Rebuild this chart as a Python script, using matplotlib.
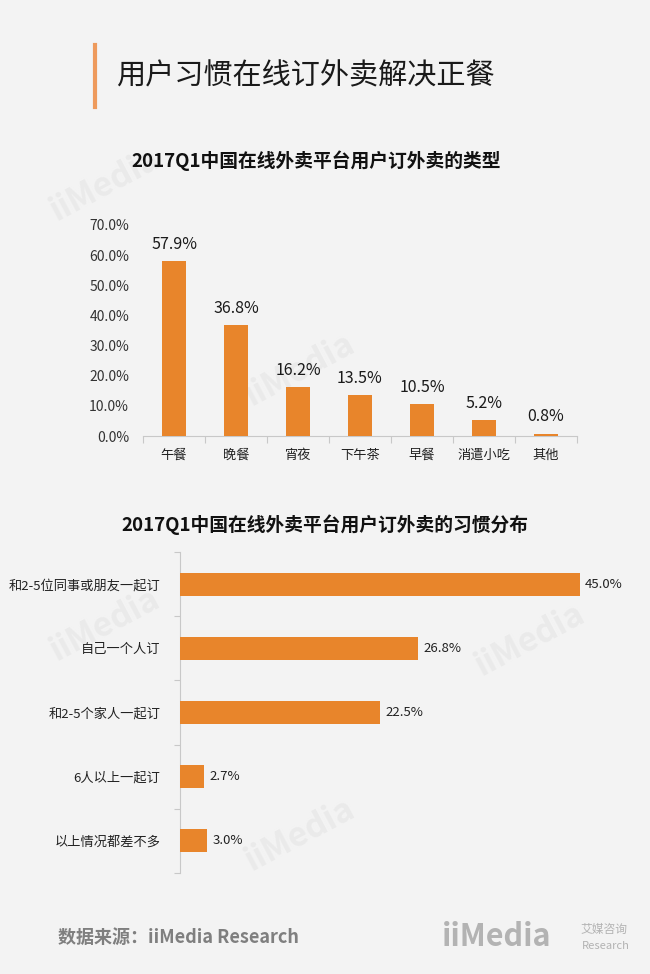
import matplotlib
matplotlib.use("Agg")
import matplotlib.pyplot as plt
import numpy as np

plt.rcParams['font.family'] = ['Noto Sans CJK SC', 'DejaVu Sans']

# ---- data ----
page_title = "用户习惯在线订外卖解决正餐"
title1 = "2017Q1中国在线外卖平台用户订外卖的类型"
cats1 = ["午餐", "晚餐", "宵夜", "下午茶", "早餐", "消遣小吃", "其他"]
vals1 = [57.9, 36.8, 16.2, 13.5, 10.5, 5.2, 0.8]
yticks1 = [0, 10, 20, 30, 40, 50, 60, 70]

title2 = "2017Q1中国在线外卖平台用户订外卖的习惯分布"
cats2 = ["和2-5位同事或朋友一起订", "自己一个人订", "和2-5个家人一起订", "6人以上一起订", "以上情况都差不多"]
vals2 = [45.0, 26.8, 22.5, 2.7, 3.0]

source = "数据来源：iiMedia Research"

BG = "#F3F3F3"
BAR = "#E8852B"
AX = "#C8C8C8"
W, H = 650, 974

fig = plt.figure(figsize=(W / 100, H / 100), dpi=100, facecolor=BG)

def fx(px):
    return px / W

def fy(py):
    return 1 - py / H

# faint watermarks
for (x, y) in [(105, 185), (300, 370), (105, 625), (530, 640), (300, 835)]:
    fig.text(fx(x), fy(y), "iiMedia", fontsize=24, fontweight='bold', color='#EAEAEA',
             rotation=28, ha='center', va='center', zorder=-5)

# page title with orange bar
fig.add_artist(plt.Line2D([fx(95), fx(95)], [fy(45), fy(107)], color='#EE9A5C', lw=3,
                          transform=fig.transFigure))
fig.text(fx(116), fy(76), page_title, fontsize=21, color='#1a1a1a', ha='left', va='center')

# ---- top chart ----
fig.text(fx(316), fy(161), title1, fontsize=13.5, fontweight='bold', color='#111111',
         ha='center', va='center')
ax1 = fig.add_axes([fx(143), fy(436), fx(577) - fx(143), fy(225) - fy(436)])
ax1.set_facecolor('none')
x1 = np.arange(len(cats1))
ax1.bar(x1, vals1, width=0.38, color=BAR, zorder=3)
ax1.set_xlim(-0.5, len(cats1) - 0.5)
ax1.set_ylim(0, 70)
ax1.set_yticks(yticks1)
ax1.set_yticklabels([f"{v:.1f}%" for v in yticks1], fontsize=10, color='#333333')
ax1.set_xticks(x1)
ax1.set_xticklabels(cats1, fontsize=9.5, color='#222222')
ax1.set_xticks(np.arange(-0.5, len(cats1)), minor=True)
ax1.tick_params(axis='x', which='major', length=0, pad=9)
ax1.tick_params(axis='x', which='minor', length=5, color=AX, width=0.8)
ax1.tick_params(axis='y', length=0, pad=10)
for s in ['top', 'right', 'left']:
    ax1.spines[s].set_visible(False)
ax1.spines['bottom'].set_color(AX)
ax1.spines['bottom'].set_linewidth(0.8)
for xi, v in zip(x1, vals1):
    ax1.annotate(f"{v:.1f}%", (xi, v), xytext=(0, 6), textcoords='offset points',
                 ha='center', va='bottom', fontsize=11.5, color='#1a1a1a')

# ---- bottom chart ----
fig.text(fx(325), fy(525), title2, fontsize=13.5, fontweight='bold', color='#111111',
         ha='center', va='center')
ax2 = fig.add_axes([fx(180), fy(873), fx(624) - fx(180), fy(552) - fy(873)])
ax2.set_facecolor('none')
y2 = np.arange(len(cats2))
ax2.barh(y2, vals2, height=0.36, color=BAR, zorder=3)
ax2.set_ylim(len(cats2) - 0.5, -0.5)
ax2.set_xlim(0, 50)
ax2.set_yticks(y2)
ax2.set_yticklabels(cats2, fontsize=9.5, color='#222222')
ax2.set_yticks(np.arange(-0.5, len(cats2)), minor=True)
ax2.tick_params(axis='y', which='major', length=0, pad=14)
ax2.tick_params(axis='y', which='minor', length=4, color=AX, width=0.8)
ax2.set_xticks([])
for s in ['top', 'right', 'bottom']:
    ax2.spines[s].set_visible(False)
ax2.spines['left'].set_color(AX)
ax2.spines['left'].set_linewidth(0.8)
for yi, v in zip(y2, vals2):
    ax2.annotate(f"{v:.1f}%", (v, yi), xytext=(4, 0), textcoords='offset points',
                 ha='left', va='center', fontsize=9.5, color='#222222')

# ---- footer ----
fig.text(fx(58), fy(937), source, fontsize=13, fontweight='bold', color='#7F7F7F',
         ha='left', va='center')
fig.text(fx(442), fy(937), "iiMedia", fontsize=22, fontweight='bold', color='#B3B3B3',
         ha='left', va='center')
fig.text(fx(580), fy(929), "艾媒咨询", fontsize=8.5, color='#B3B3B3', ha='left', va='center')
fig.text(fx(582), fy(946), "Research", fontsize=8, style='italic', color='#B3B3B3',
         ha='left', va='center')

fig.savefig("out.png", dpi=100, facecolor=BG)
